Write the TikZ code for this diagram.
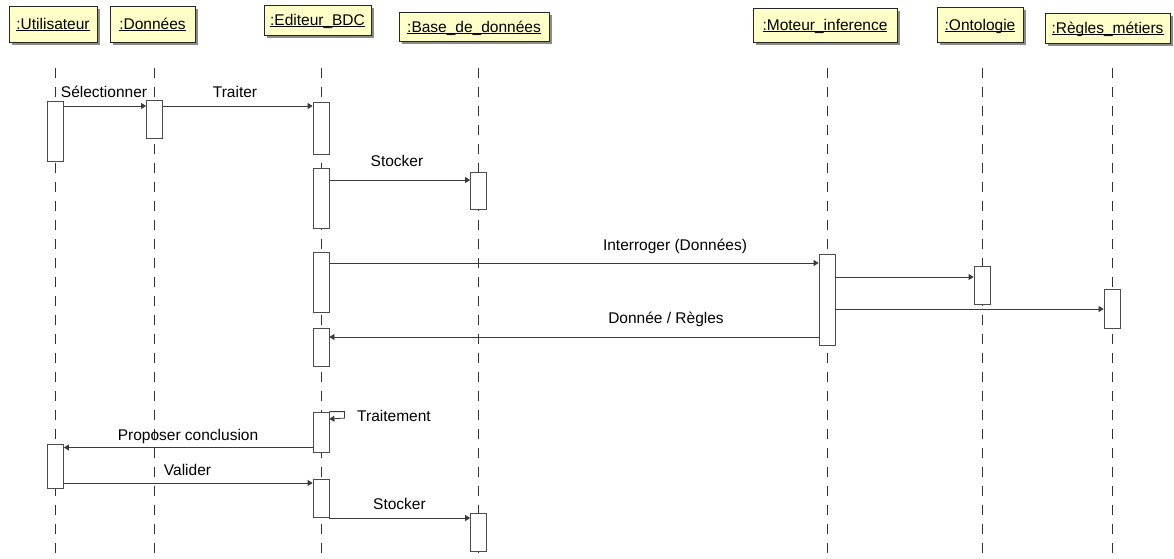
\documentclass[tikz,border=0pt]{standalone}
\usepackage{fontspec}
\setmainfont{Liberation Sans}
\usetikzlibrary{arrows.meta,shadows}
\definecolor{boxfill}{HTML}{FFFFC8}
\definecolor{linec}{HTML}{3A3A3A}
\newcommand\ulname[1]{\setbox0\hbox{#1}\rlap{\rule[-1.3pt]{\wd0}{0.8pt}}\box0}
\begin{document}
\begin{tikzpicture}[x=1pt,y=-1pt,
  font=\fontsize{15.5}{18}\selectfont,
  hdr/.style={draw=black!85,line width=0.8pt,fill=boxfill,inner sep=0pt,
     text height=11pt,text depth=0pt,
     drop shadow={shadow xshift=3pt,shadow yshift=-3pt,fill=black!45,opacity=1}},
  act/.style={draw=black!70,line width=0.8pt,fill=white,minimum width=16pt,inner sep=0pt},
  life/.style={draw=black!80,line width=0.8pt,dash pattern=on 10pt off 9pt},
  msg/.style={draw=linec,line width=0.8pt,-{Triangle[length=5pt,width=6pt]}},
  lbl/.style={anchor=base,inner sep=0pt}]
\useasboundingbox (0,0) rectangle (1174,558);

% lifelines
\foreach \n/\x in {U/55.5,D/154.5,E/321,B/478.5,M/827,O/982,R/1112}{
  \coordinate (l\n) at (\x,68);
  \draw[life] (l\n) -- (l\n |- 0,558);
}

% activations
\node[act,minimum height=60pt] (u1) at (55.5,131) {};
\node[act,minimum height=38pt] (d1) at (154.5,119) {};
\node[act,minimum height=52pt] (e1) at (321,128) {};
\node[act,minimum height=60pt] (e2) at (321,198) {};
\node[act,minimum height=37pt] (b1) at (478.5,190.5) {};
\node[act,minimum height=60pt] (e3) at (321,282) {};
\node[act,minimum height=91pt] (m1) at (827,299.5) {};
\node[act,minimum height=38pt] (o1) at (982,285) {};
\node[act,minimum height=39pt] (r1) at (1112,308.5) {};
\node[act,minimum height=38pt] (e4) at (321,347) {};
\node[act,minimum height=40pt] (e5) at (321,432) {};
\node[act,minimum height=44pt] (u2) at (55.5,466) {};
\node[act,minimum height=38pt] (e6) at (321,498) {};
\node[act,minimum height=38pt] (b2) at (478.5,532) {};

% messages
\draw[msg] (u1.east |- 0,106) -- (d1.west |- 0,106);
\draw[msg] (d1.east |- 0,106) -- (e1.west |- 0,106);
\draw[msg] (e2.east |- 0,180) -- (b1.west |- 0,180);
\draw[msg] (e3.east |- 0,263) -- (m1.west |- 0,263);
\draw[msg] (m1.east |- 0,277) -- (o1.west |- 0,277);
\draw[msg] (m1.east |- 0,309) -- (r1.west |- 0,309);
\draw[msg] (m1.west |- 0,337) -- (e4.east |- 0,337);
\draw[msg] (e5.north east) -- ++(15,0) -- ++(0,6.5) -- (e5.east |- 0,419);
\draw[msg] (e5.west |- 0,447.5) -- (u2.east |- 0,447.5);
\draw[msg] (u2.east |- 0,483) -- (e6.west |- 0,483);
\draw[msg] (e6.east |- 0,518) -- (b2.west |- 0,518);

% labels
\node[lbl] (t1) at (104,97.5) {Sélectionner};
\node[lbl] (t2) at (235,97.5) {Traiter};
\node[lbl] (t3) at (397,166.5) {Stocker};
\node[lbl] (t4) at (675,250.5) {Interroger (Données)};
\node[lbl] (t5) at (666,323.5) {Donnée / Règles};
\node[lbl,anchor=base west] (t6) at (357,421) {Traitement};
\node[lbl] (t7) at (188,440) {Proposer conclusion};
\node[lbl] (t8) at (187.5,475) {Valider};
\node[lbl] (t9) at (399.5,509) {Stocker};

% headers
\node[hdr,minimum width=88pt,minimum height=36pt] (hU) at (53,24) {\ulname{:Utilisateur}};
\node[hdr,minimum width=85pt,minimum height=36pt] (hD) at (152.5,24) {\ulname{:Données}};
\node[hdr,minimum width=107pt,minimum height=30pt] (hE) at (317.5,20) {\ulname{:Editeur\_BDC}};
\node[hdr,minimum width=150pt,minimum height=29pt] (hB) at (474,26.5) {\ulname{:Base\_de\_données}};
\node[hdr,minimum width=144pt,minimum height=34pt] (hM) at (825,25) {\ulname{:Moteur\_inference}};
\node[hdr,minimum width=86pt,minimum height=35pt] (hO) at (980,24.5) {\ulname{:Ontologie}};
\node[hdr,minimum width=125pt,minimum height=30pt] (hR) at (1107.5,28) {\ulname{:Règles\_métiers}};
\end{tikzpicture}
\end{document}
